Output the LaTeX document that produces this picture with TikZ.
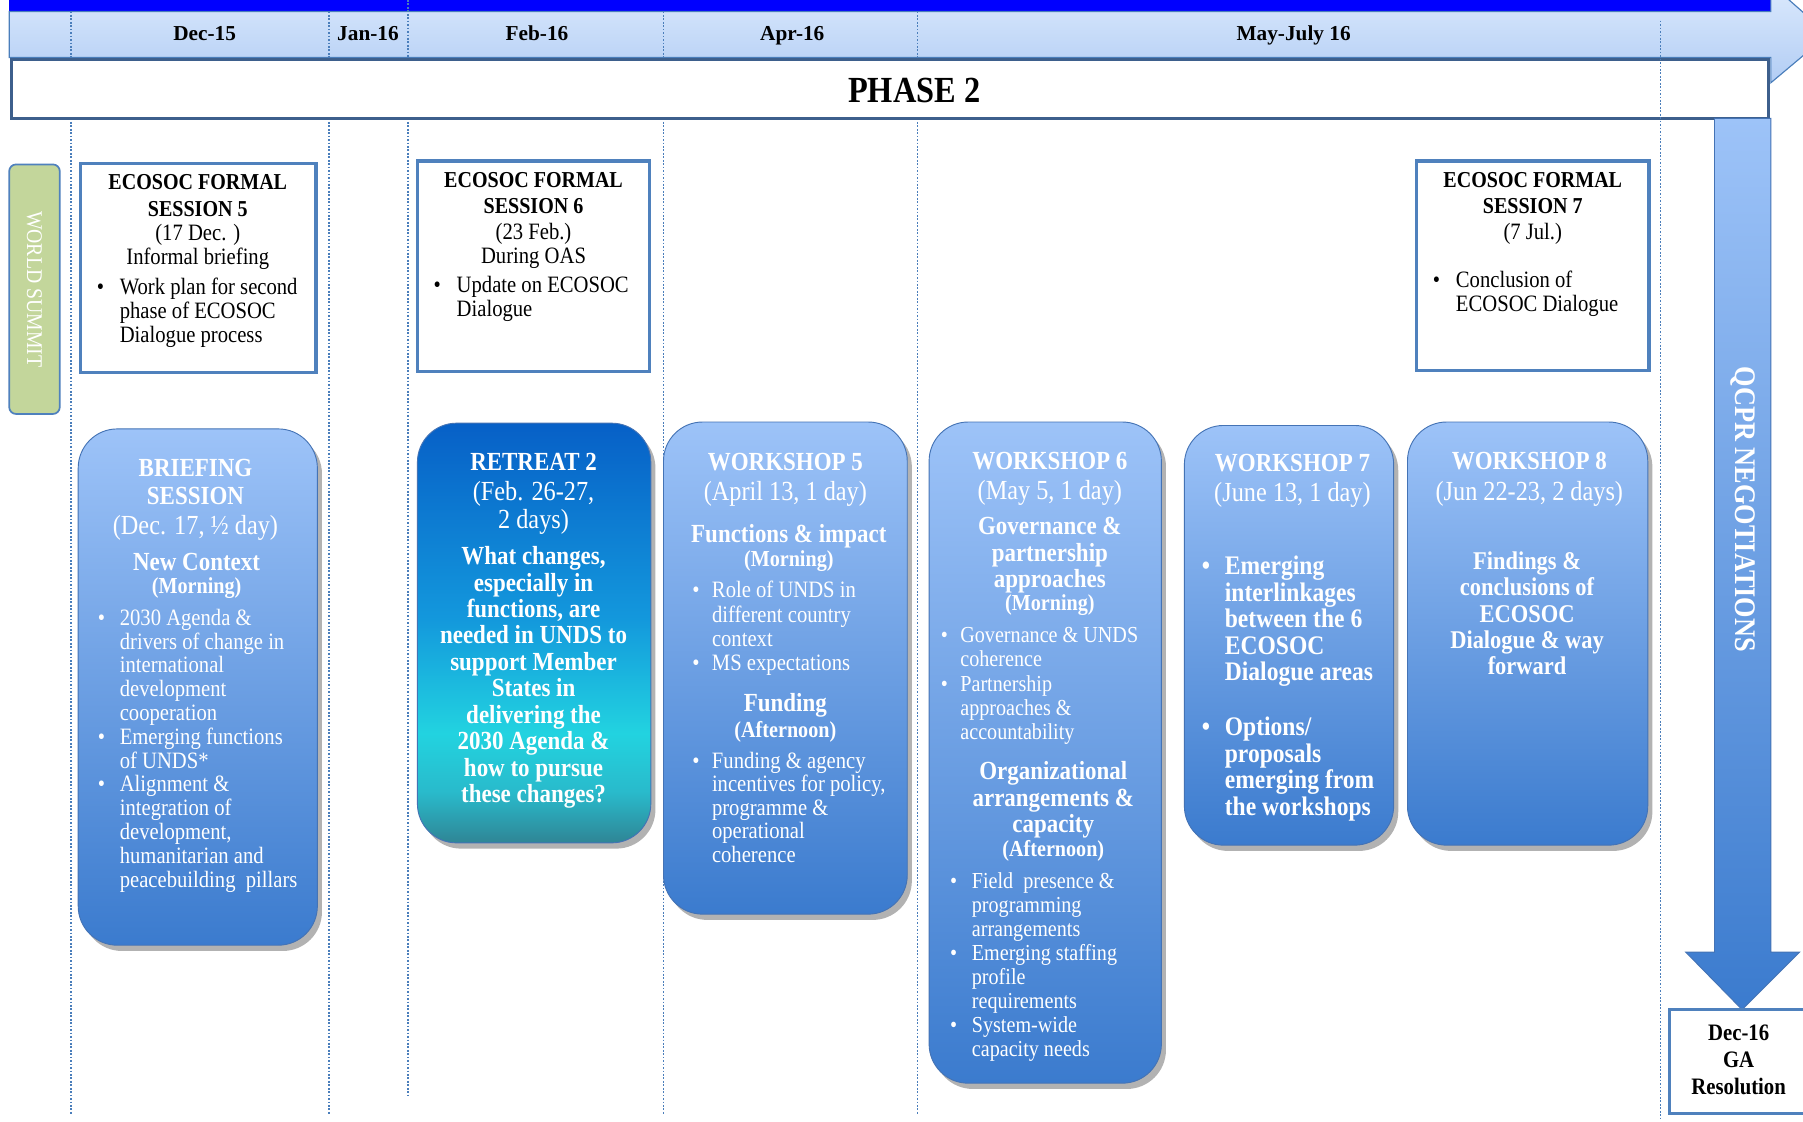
\documentclass[tikz,border=0pt]{standalone}
\usepackage{fontspec}
\setmainfont[FakeStretch=0.88]{Liberation Serif}
\newfontfamily\monfont{Liberation Serif}
\usetikzlibrary{shadows}
\definecolor{topBlue}{HTML}{0000FF}
\definecolor{bandTop}{HTML}{DCEAFD}
\definecolor{bandBot}{HTML}{B2CDF4}
\definecolor{bandEdge}{HTML}{4A7EBB}
\definecolor{dotC}{HTML}{4A7EBB}
\definecolor{phaseEdge}{HTML}{3D5F8C}
\definecolor{ecoEdge}{HTML}{4F81BD}
\definecolor{wsEdge}{HTML}{4473B5}
\definecolor{wsTop}{HTML}{9DC3F8}
\definecolor{wsBot}{HTML}{3B7BCE}
\definecolor{wsGreen}{HTML}{C3D69B}
\definecolor{rtA}{HTML}{2F8595}
\definecolor{rtB}{HTML}{29BACB}
\definecolor{rtC}{HTML}{22D3E0}
\definecolor{rtD}{HTML}{1397DC}
\definecolor{rtE}{HTML}{0760C7}
\pgfdeclareverticalshading{retreatshade}{100bp}{color(0bp)=(rtA); color(25bp)=(rtA); color(31bp)=(rtB); color(38bp)=(rtC); color(52bp)=(rtD); color(75bp)=(rtE); color(100bp)=(rtE)}
\newcommand\Fmon{\monfont\bfseries\fontsize{18.5}{20}\selectfont}
\newcommand\Fphase{\bfseries\fontsize{32}{36}\selectfont}
\newcommand\Fws{\fontsize{19.5}{22}\selectfont}
\newcommand\Fehead{\bfseries\fontsize{19.8}{23}\selectfont}
\newcommand\Fbody{\fontsize{20.4}{21}\selectfont}
\newcommand\Ftitle{\bfseries\fontsize{22.7}{25}\selectfont}
\newcommand\Fdate{\fontsize{24}{25}\selectfont}
\newcommand\Fsub{\bfseries\fontsize{22.7}{23}\selectfont}
\newcommand\Fsmall{\bfseries\fontsize{19.9}{21}\selectfont}
\newcommand\Fqcpr{\bfseries\fontsize{26}{30}\selectfont}
\newcommand\Fga{\bfseries\fontsize{20.5}{23.5}\selectfont}
\newcommand\bul[2][16pt]{\makebox[#1][l]{\textbullet}#2}
\newcommand\cnt[2][16pt]{\hspace*{#1}#2}
\begin{document}
\begin{tikzpicture}[x=1pt,y=-1pt,
  wsbox/.style={rounded corners=34pt, draw=wsEdge, line width=0.8pt, top color=wsTop, bottom color=wsBot,
    drop shadow={shadow xshift=4pt, shadow yshift=-5pt, opacity=0.3, fill=black}},
  ecobox/.style={draw=ecoEdge, line width=3pt, fill=white, inner sep=0pt},
  wt/.style={inner sep=0pt, text=white},
  bt/.style={inner sep=0pt, text=black},
  dotl/.style={draw=dotC, line width=1.5pt, dash pattern=on 1.5pt off 1.5pt},
]
\useasboundingbox (0,0) rectangle (1568,975);
\fill[white] (0,0) rectangle (1568,975);

% top bar and timeline arrow
\fill[topBlue] (8,0) rectangle (1540,10);
\path[top color=bandTop, bottom color=bandBot, draw=bandEdge, line width=1pt]
  (8,10) -- (1540,10) -- (1540,-14) -- (1590,30) -- (1540,72) -- (1540,50) -- (8,50) -- cycle;

% dotted month separators
\foreach \xx in {62,286,577,798}{
  \draw[dotl] (\xx,10) -- (\xx,52);
  \draw[dotl] (\xx,103) -- (\xx,970);
}
\draw[dotl] (355,0) -- (355,52);
\draw[dotl] (355,103) -- (355,955);

% month labels
\node[bt, font=\Fmon, anchor=base] (m1) at (178,35) {Dec-15};
\node[bt, font=\Fmon, anchor=base] (m2) at (320,35) {Jan-16};
\node[bt, font=\Fmon, anchor=base] (m3) at (467,35) {Feb-16};
\node[bt, font=\Fmon, anchor=base] (m4) at (689,35) {Apr-16};
\node[bt, font=\Fmon, anchor=base] (m5) at (1125,35) {May-July 16};

% phase box
\node[draw=phaseEdge, line width=2.5pt, fill=white, minimum width=1528pt, minimum height=51pt, inner sep=0pt] (phasebox) at (774,77.5) {};
\node[bt, font=\Fphase, anchor=base] (phase) at (795,89) {PHASE 2};
\draw[dotl] (1444,18) -- (1444,975);

% world summit
\node[draw=ecoEdge, line width=1.5pt, fill=wsGreen, rounded corners=6pt, minimum width=44pt, minimum height=217pt, inner sep=0pt] (ws) at (30,251.5) {};
\node[wt, font=\Fws, rotate=-90] (wst) at (ws.center) {WORLD SUMMIT};

% ECOSOC session 5
\node[ecobox, minimum width=205pt, minimum height=182pt] (eco5) at (172.5,233) {};
\node[bt, font=\Fehead, align=center, anchor=base] (eco5h) at (172,188) {ECOSOC FORMAL\\SESSION 5};
\node[bt, font=\Fbody, align=center, anchor=base] (eco5d) at (172,230) {(17 Dec. )\\Informal briefing};
\node[bt, font=\Fbody, align=left, anchor=base west] (eco5b) at (84,298) {\bul[20pt]{Work plan for second}\\\cnt[20pt]{phase of ECOSOC}\\\cnt[20pt]{Dialogue process}};

% ECOSOC session 6
\node[ecobox, minimum width=202pt, minimum height=183pt] (eco6) at (464,231.5) {};
\node[bt, font=\Fehead, align=center, anchor=base] (eco6h) at (464,186) {ECOSOC FORMAL\\SESSION 6};
\node[bt, font=\Fbody, align=center, anchor=base] (eco6d) at (464,229) {(23 Feb.)\\During OAS};
\node[bt, font=\Fbody, align=left, anchor=base west] (eco6b) at (377,275) {\bul[20pt]{Update on ECOSOC}\\\cnt[20pt]{Dialogue}};

% ECOSOC session 7
\node[ecobox, minimum width=202pt, minimum height=182pt] (eco7) at (1333,231) {};
\node[bt, font=\Fehead, align=center, anchor=base] (eco7h) at (1333,186) {ECOSOC FORMAL\\SESSION 7};
\node[bt, font=\Fbody, align=center, anchor=base] (eco7d) at (1333,208) {(7 Jul.)};
\node[bt, font=\Fbody, align=left, anchor=base west] (eco7b) at (1246,271) {\bul[20pt]{Conclusion of}\\\cnt[20pt]{ECOSOC Dialogue}};

% Briefing session
\node[wsbox, minimum width=208pt, minimum height=449pt] (brief) at (172,597.5) {};
\node[wt, font=\Ftitle, align=center, anchor=base] (brh) at (170,439) {BRIEFING\\SESSION};
\node[wt, font=\Fdate, anchor=base] (brd) at (170,465) {(Dec. 17, ½ day)};
\node[wt, font=\Fsub, anchor=base] (brs) at (171,496) {New Context};
\node[wt, font=\Fsmall, anchor=base] (brm) at (171,516) {(Morning)};
\node[wt, font={\fontsize{20.4}{20.7}\selectfont}, align=left, anchor=base west] (brb) at (85,771.5) {%
\bul[19pt]{2030 Agenda \&}\\
\cnt[19pt]{drivers of change in}\\
\cnt[19pt]{international}\\
\cnt[19pt]{development}\\
\cnt[19pt]{cooperation}\\
\bul[19pt]{Emerging functions}\\
\cnt[19pt]{of UNDS*}\\
\bul[19pt]{Alignment \&}\\
\cnt[19pt]{integration of}\\
\cnt[19pt]{development,}\\
\cnt[19pt]{humanitarian and}\\
\cnt[19pt]{peacebuilding\ \ pillars}};

% Retreat 2
\node[rounded corners=34pt, draw=wsEdge, line width=0.8pt, shade, shading=retreatshade,
  drop shadow={shadow xshift=4pt, shadow yshift=-5pt, opacity=0.3, fill=black},
  minimum width=203pt, minimum height=365pt] (retreat) at (464.5,550.5) {};
\node[wt, font=\Ftitle, anchor=base] (rth) at (464,409) {RETREAT 2};
\node[wt, font=\Fdate, align=center, anchor=base] (rtd) at (464,460) {(Feb. 26-27,\\2 days)};
\node[wt, font=\Fsub, align=center, anchor=base] (rtq) at (464,698) {What changes,\\especially in\\functions, are\\needed in UNDS to\\support Member\\States in\\delivering the\\2030 Agenda \&\\how to pursue\\these changes?};

% Workshop 5
\node[wsbox, minimum width=212pt, minimum height=428pt] (w5) at (683,581) {};
\node[wt, font=\Ftitle, anchor=base] (w5h) at (683,409) {WORKSHOP 5};
\node[wt, font=\Fdate, anchor=base] (w5d) at (683,435) {(April 13, 1 day)};
\node[wt, font=\Fsub, anchor=base] (w5s) at (686,472) {Functions \& impact};
\node[wt, font=\Fsmall, anchor=base] (w5m) at (686,493) {(Morning)};
\node[wt, font={\fontsize{20.4}{21}\selectfont}, align=left, anchor=base west] (w5b) at (602,583) {%
\bul[17pt]{Role of UNDS in}\\
\cnt[17pt]{different country}\\
\cnt[17pt]{context}\\
\bul[17pt]{MS expectations}};
\node[wt, font=\Fsub, anchor=base] (w5f) at (683,619) {Funding};
\node[wt, font=\Fsmall, anchor=base] (w5a) at (683,641) {(Afternoon)};
\node[wt, font={\fontsize{20.4}{20.5}\selectfont}, align=left, anchor=base west] (w5c) at (602,750) {%
\bul[17pt]{Funding \& agency}\\
\cnt[17pt]{incentives for policy,}\\
\cnt[17pt]{programme \&}\\
\cnt[17pt]{operational}\\
\cnt[17pt]{coherence}};

% Workshop 6
\node[wsbox, minimum width=202pt, minimum height=575pt] (w6) at (909,654.5) {};
\node[wt, font=\Ftitle, anchor=base] (w6h) at (913,408) {WORKSHOP 6};
\node[wt, font=\Fdate, anchor=base] (w6d) at (913,434) {(May 5, 1 day)};
\node[wt, font=\Fsub, align=center, anchor=base] (w6s) at (913,511) {Governance \&\\partnership\\approaches};
\node[wt, font=\Fsmall, anchor=base] (w6m) at (913,531) {(Morning)};
\node[wt, font={\fontsize{19.9}{21}\selectfont}, align=left, anchor=base west] (w6b) at (818,643) {%
\bul[17pt]{Governance \& UNDS}\\
\cnt[17pt]{coherence}\\
\bul[17pt]{Partnership}\\
\cnt[17pt]{approaches \&}\\
\cnt[17pt]{accountability}};
\node[wt, font=\Fsub, align=center, anchor=base] (w6o) at (916,724) {Organizational\\arrangements \&\\capacity};
\node[wt, font=\Fsmall, anchor=base] (w6a) at (916,745) {(Afternoon)};
\node[wt, font={\fontsize{19.9}{20.9}\selectfont}, align=left, anchor=base west] (w6c) at (826,919) {%
\bul[19pt]{Field\ \ presence \&}\\
\cnt[19pt]{programming}\\
\cnt[19pt]{arrangements}\\
\bul[19pt]{Emerging staffing}\\
\cnt[19pt]{profile}\\
\cnt[19pt]{requirements}\\
\bul[19pt]{System-wide}\\
\cnt[19pt]{capacity needs}};

% Workshop 7
\node[wsbox, minimum width=182pt, minimum height=365pt] (w7) at (1121,552.5) {};
\node[wt, font=\Ftitle, anchor=base] (w7h) at (1124,410) {WORKSHOP 7};
\node[wt, font=\Fdate, anchor=base] (w7d) at (1124,436) {(June 13, 1 day)};
\node[wt, font={\bfseries\fontsize{23.3}{23}\selectfont}, align=left, anchor=base west] (w7b) at (1045,592) {%
\bul[20pt]{Emerging}\\
\cnt[20pt]{interlinkages}\\
\cnt[20pt]{between the 6}\\
\cnt[20pt]{ECOSOC}\\
\cnt[20pt]{Dialogue areas}};
\node[wt, font={\bfseries\fontsize{23.3}{23}\selectfont}, align=left, anchor=base west] (w7c) at (1045,709) {%
\bul[20pt]{Options/}\\
\cnt[20pt]{proposals}\\
\cnt[20pt]{emerging from}\\
\cnt[20pt]{the workshops}};

% Workshop 8
\node[wsbox, minimum width=209pt, minimum height=368pt] (w8) at (1328.5,551) {};
\node[wt, font=\Ftitle, anchor=base] (w8h) at (1330,408) {WORKSHOP 8};
\node[wt, font=\Fdate, anchor=base] (w8d) at (1330,435) {(Jun 22-23, 2 days)};
\node[wt, font={\bfseries\fontsize{22.2}{23}\selectfont}, align=center, anchor=base] (w8t) at (1328,587) {Findings \&\\conclusions of\\ECOSOC\\Dialogue \& way\\forward};

% QCPR arrow
\path[draw=wsEdge, line width=0.8pt, top color=wsTop, bottom color=wsBot]
  (1491,103) -- (1540,103) -- (1540,828) -- (1565,828) -- (1515,878) -- (1466,828) -- (1491,828) -- cycle;
\node[wt, font=\Fqcpr, rotate=-90] (qcpr) at (1516,443) {QCPR NEGOTIATIONS};

% GA resolution
\node[draw=ecoEdge, line width=2.5pt, fill=white, minimum width=125pt, minimum height=90pt, inner sep=0pt] (ga) at (1514.5,923) {};
\node[bt, font=\Fga, align=center, anchor=base] (gat) at (1512,952) {Dec-16\\GA\\Resolution};
\end{tikzpicture}
\end{document}
